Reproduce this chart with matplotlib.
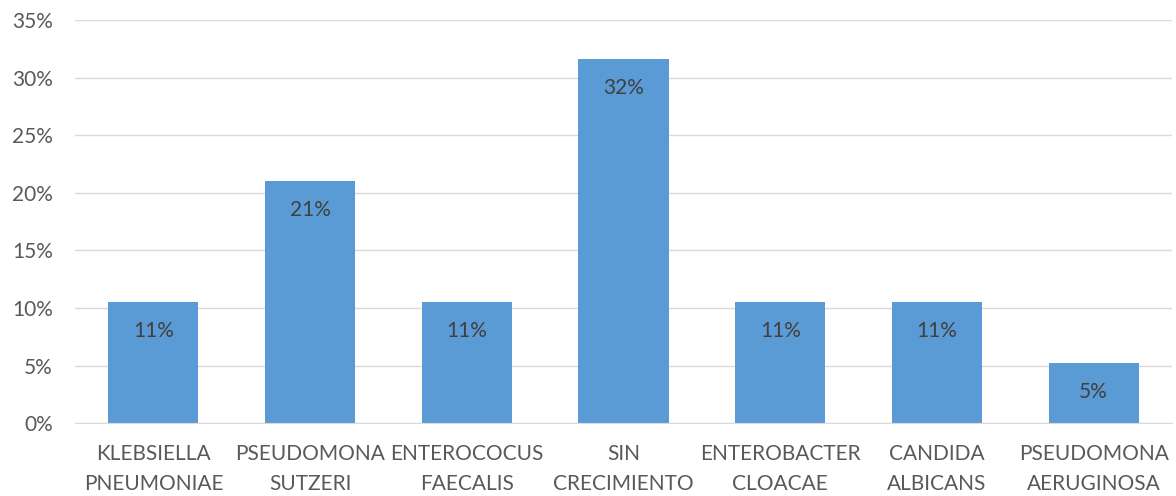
import matplotlib.pyplot as plt
from matplotlib.ticker import PercentFormatter, MultipleLocator

BAR_BLUE = "#5B9BD5"
GRID_GREY = "#D9D9D9"
TEXT_GREY = "#595959"

categories = [
    "KLEBSIELLA\nPNEUMONIAE",
    "PSEUDOMONA\nSUTZERI",
    "ENTEROCOCUS\nFAECALIS",
    "SIN\nCRECIMIENTO",
    "ENTEROBACTER\nCLOACAE",
    "CANDIDA\nALBICANS",
    "PSEUDOMONA\nAERUGINOSA",
]
shares = [0.1053, 0.2105, 0.1053, 0.3158, 0.1053, 0.1053, 0.0526]

plt.rcParams.update({
    "font.family": ["Lato", "DejaVu Sans"],
    "font.size": 15,
    "text.color": TEXT_GREY,
    "xtick.color": TEXT_GREY,
    "ytick.color": TEXT_GREY,
})

fig = plt.figure(figsize=(11.76, 4.96), dpi=100)
ax = fig.add_axes([0.0638, 0.147, 0.9328, 0.8127])

x = range(len(categories))
bars = ax.bar(x, shares, width=0.575, color=BAR_BLUE, zorder=2)

# value labels sit just inside the top of each bar
for bar, v in zip(bars, shares):
    ax.annotate(f"{v:.0%}", (bar.get_x() + bar.get_width() / 2, v),
                xytext=(0, -29), textcoords="offset pixels",
                ha="center", va="center", fontsize=15, color="#404040")

ax.set_xlim(-0.5, len(categories) - 0.5)
ax.set_ylim(0, 0.35)
ax.yaxis.set_major_locator(MultipleLocator(0.05))
ax.yaxis.set_major_formatter(PercentFormatter(1.0, decimals=0))
ax.set_xticks(list(x))
ax.set_xticklabels(categories, linespacing=1.6)
ax.tick_params(axis="both", length=0, labelsize=15)
ax.tick_params(axis="x", pad=15)
ax.tick_params(axis="y", pad=16)

ax.grid(axis="y", color=GRID_GREY, linewidth=1, zorder=0)
for side in ("top", "right", "left"):
    ax.spines[side].set_visible(False)
ax.spines["bottom"].set_color(GRID_GREY)

fig.savefig("out.png", dpi=100)
